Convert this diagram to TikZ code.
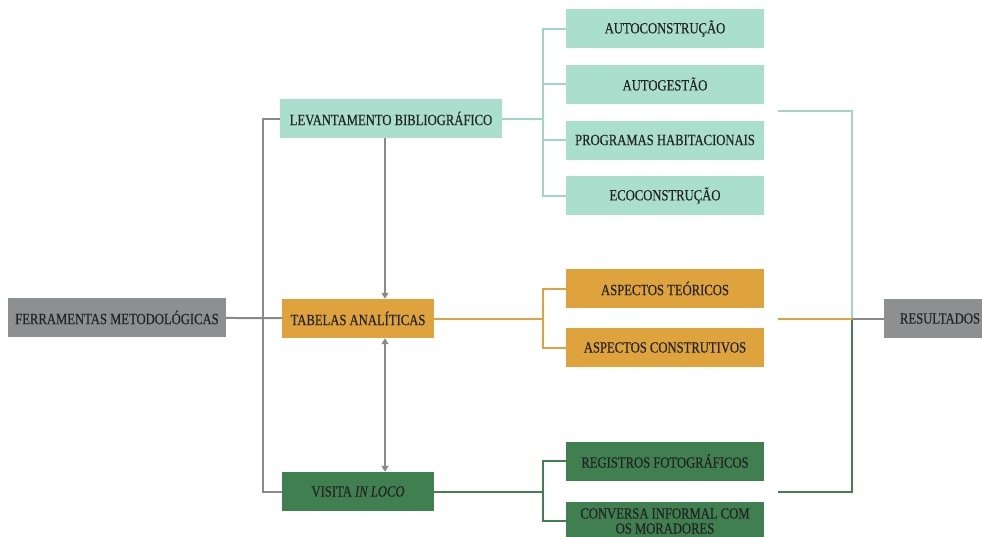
\documentclass[tikz,border=0pt]{standalone}
\usepackage{fontspec}
\setmainfont{Liberation Serif}[FakeStretch=0.81, FakeBold=0.4]
\usetikzlibrary{arrows.meta}

\definecolor{mint}{RGB}{170,222,205}
\definecolor{mintln}{RGB}{160,215,195}
\definecolor{ocre}{RGB}{222,163,60}
\definecolor{verde}{RGB}{64,128,80}
\definecolor{cinza}{RGB}{141,143,145}
\definecolor{cinzaln}{RGB}{138,138,138}
\definecolor{texto}{RGB}{35,35,35}

\tikzset{
  box/.style={rectangle, inner sep=0pt, minimum height=39pt, text=texto,
    font=\fontsize{15.6}{16}\selectfont, align=center},
  grayline/.style={draw=cinzaln, line width=2pt},
  mintline/.style={draw=mintln, line width=2pt},
  ocreline/.style={draw=ocre, line width=2pt},
  verdeline/.style={draw=verde, line width=2pt},
  >={Triangle[width=7pt,length=6pt]}
}

\begin{document}
\begin{tikzpicture}[x=1pt, y=-1pt]
        \useasboundingbox (0,0) rectangle (982,536);
        \clip (0,0) rectangle (982,536);

        % Nodes
        \node (ferr) at (117,317.5) [box, fill=cinza, minimum width=218pt] {FERRAMENTAS METODOLÓGICAS};
        \node (lev)  at (391,118.5) [box, fill=mint, minimum width=222pt] {LEVANTAMENTO BIBLIOGRÁFICO};
        \node (tab)  at (358,318.5) [box, fill=ocre, minimum width=152pt] {TABELAS ANALÍTICAS};
        \node (vis)  at (358,491.5) [box, fill=verde, minimum width=152pt] {VISITA \textit{IN LOCO}};

        \node (auto)  at (665,28.5)  [box, fill=mint, minimum width=198pt] {AUTOCONSTRUÇÃO};
        \node (autog) at (665,84)    [box, fill=mint, minimum width=198pt] {AUTOGESTÃO};
        \node (prog)  at (665,140)   [box, fill=mint, minimum width=198pt] {PROGRAMAS HABITACIONAIS};
        \node (eco)   at (665,195.5) [box, fill=mint, minimum width=198pt] {ECOCONSTRUÇÃO};

        \node (teo)  at (665,288.5) [box, fill=ocre, minimum width=198pt] {ASPECTOS TEÓRICOS};
        \node (cons) at (665,347.5) [box, fill=ocre, minimum width=198pt] {ASPECTOS CONSTRUTIVOS};

        \node (reg)  at (665,461) [box, fill=verde, minimum width=198pt] {REGISTROS FOTOGRÁFICOS};
        \node (conv) at (665,521) [box, fill=verde, minimum width=198pt] {CONVERSA INFORMAL COM\\[-1pt]OS MORADORES};

        \node (res) at (940,318.5) [box, fill=cinza, minimum width=112pt] {RESULTADOS};

        % Junctions
        \coordinate (lj) at (263,0);
        \coordinate (ax) at (385,0);
        \coordinate (mj) at (543,0);
        \coordinate (rj) at (852,0);
        \coordinate (m1) at (778,111);
        \coordinate (o1) at (778,318.5);
        \coordinate (g1) at (778,492);

        % Edges
        \draw[grayline] (ferr) -- (tab);
        \draw[grayline] (lev.west) -| (lj |- vis.west) -- (vis.west);
        \draw[grayline, ->] (lev.south -| ax) -- (tab.north -| ax);
        \draw[grayline, <->] (tab.south -| ax) -- (vis.north -| ax);

        \draw[mintline] (lev.east) -- (lev.east -| mj);
        \draw[mintline] (auto.west) -| (mj |- eco.west) -- (eco.west);
        \draw[mintline] (mj |- autog.west) -- (autog.west);
        \draw[mintline] (mj |- prog.west) -- (prog.west);

        \draw[ocreline] (tab.east) -- (tab.east -| mj);
        \draw[ocreline] (teo.west) -| (mj |- cons.west) -- (cons.west);

        \draw[verdeline] (vis.east) -- (vis.east -| mj);
        \draw[verdeline] (reg.west) -| (mj |- conv.west) -- (conv.west);

        \draw[mintline] (m1) -| (rj |- res.west);
        \draw[verdeline] (g1) -| (rj |- res.west);
        \draw[ocreline] (o1) -- (o1 -| rj);
        \draw[grayline] (rj |- res.west) -- (res.west);
      \end{tikzpicture}
\end{document}
